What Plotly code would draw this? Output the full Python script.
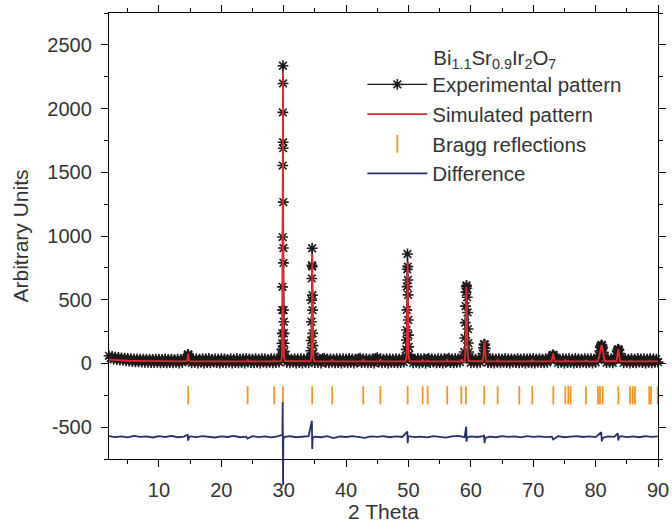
import plotly.graph_objects as go

# ---------------- Experimental pattern (2θ in degrees, counts) ----------------
exp_two_theta = [
    # background 2-14
    2.0, 2.25, 2.5, 2.75, 3.0, 3.25, 3.5, 3.75, 4.0, 4.25, 4.5, 4.75, 5.0, 5.25, 5.5, 5.75,
    6.0, 6.25, 6.5, 6.75, 7.0, 7.25, 7.5, 7.75, 8.0, 8.25, 8.5, 8.75, 9.0, 9.25, 9.5, 9.75,
    10.0, 10.25, 10.5, 10.75, 11.0, 11.25, 11.5, 11.75, 12.0, 12.25, 12.5, 12.75, 13.0,
    13.25, 13.5, 13.75, 14.0,
    # (111)
    14.30, 14.45, 14.55, 14.62, 14.68, 14.74, 14.80, 14.90, 15.05,
    # background 15.25-29.5
    15.25, 15.5, 15.75, 16.0, 16.25, 16.5, 16.75, 17.0, 17.25, 17.5, 17.75, 18.0, 18.25,
    18.5, 18.75, 19.0, 19.25, 19.5, 19.75, 20.0, 20.25, 20.5, 20.75, 21.0, 21.25, 21.5,
    21.75, 22.0, 22.25, 22.5, 22.75, 23.0, 23.25, 23.5, 23.75, 24.0, 24.25, 24.5, 24.75,
    25.0, 25.25, 25.5, 25.75, 26.0, 26.25, 26.5, 26.75, 27.0, 27.25, 27.5, 27.75, 28.0,
    28.25, 28.5, 28.75, 29.0, 29.25, 29.5,
    # (222)
    29.56, 29.62, 29.67, 29.71, 29.74, 29.77, 29.79, 29.81, 29.83, 29.85, 29.87, 29.88,
    29.90, 29.91, 29.92, 29.94, 29.96, 29.97, 29.99, 30.01, 30.04, 30.07, 30.11, 30.16, 30.24,
    # background 30.5-34
    30.5, 30.75, 31.0, 31.25, 31.5, 31.75, 32.0, 32.25, 32.5, 32.75, 33.0, 33.25, 33.5,
    33.75, 34.0,
    # (400)
    34.22, 34.30, 34.36, 34.41, 34.45, 34.48, 34.51, 34.53, 34.56, 34.59, 34.61, 34.63,
    34.66, 34.70, 34.75, 34.82, 34.92,
    # background 35-49.25
    35.0, 35.25, 35.5, 35.75, 36.0, 36.25, 36.5, 36.75, 37.0, 37.25, 37.5, 37.75, 38.0,
    38.25, 38.5, 38.75, 39.0, 39.25, 39.5, 39.75, 40.0, 40.25, 40.5, 40.75, 41.0, 41.25,
    41.5, 41.75, 42.0, 42.25, 42.5, 42.75, 43.0, 43.25, 43.5, 43.75, 44.0, 44.25, 44.5,
    44.75, 45.0, 45.25, 45.5, 45.75, 46.0, 46.25, 46.5, 46.75, 47.0, 47.25, 47.5, 47.75,
    48.0, 48.25, 48.5, 48.75, 49.0, 49.25,
    # (440)
    49.50, 49.58, 49.64, 49.68, 49.71, 49.74, 49.77, 49.80, 49.84, 49.88, 49.91, 49.94,
    49.97, 50.00, 50.05, 50.12, 50.22,
    # background 50.5-58.5
    50.5, 50.75, 51.0, 51.25, 51.5, 51.75, 52.0, 52.25, 52.5, 52.75, 53.0, 53.25, 53.5,
    53.75, 54.0, 54.25, 54.5, 54.75, 55.0, 55.25, 55.5, 55.75, 56.0, 56.25, 56.5, 56.75,
    57.0, 57.25, 57.5, 57.75, 58.0, 58.25, 58.5,
    # (622)
    58.85, 58.95, 59.03, 59.10, 59.16, 59.22, 59.27, 59.32, 59.37, 59.42, 59.48, 59.54,
    59.60, 59.67, 59.75, 59.86,
    # background 60-61.5
    60.0, 60.25, 60.5, 60.75, 61.0, 61.25, 61.5,
    # (444)
    61.85, 61.95, 62.03, 62.10, 62.17, 62.24, 62.31, 62.40, 62.52,
    # background 62.75-72.5
    62.75, 63.0, 63.25, 63.5, 63.75, 64.0, 64.25, 64.5, 64.75, 65.0, 65.25, 65.5, 65.75,
    66.0, 66.25, 66.5, 66.75, 67.0, 67.25, 67.5, 67.75, 68.0, 68.25, 68.5, 68.75, 69.0,
    69.25, 69.5, 69.75, 70.0, 70.25, 70.5, 70.75, 71.0, 71.25, 71.5, 71.75, 72.0, 72.25, 72.5,
    # (800)
    72.85, 72.95, 73.05, 73.15, 73.25, 73.35, 73.47,
    # background 73.75-80.25
    73.75, 74.0, 74.25, 74.5, 74.75, 75.0, 75.25, 75.5, 75.75, 76.0, 76.25, 76.5, 76.75,
    77.0, 77.25, 77.5, 77.75, 78.0, 78.25, 78.5, 78.75, 79.0, 79.25, 79.5, 79.75, 80.0, 80.25,
    # (662)/(840)
    80.45, 80.55, 80.65, 80.75, 80.85, 80.95, 81.05, 81.15, 81.25, 81.35, 81.50,
    # background 81.75-83
    81.75, 82.0, 82.25, 82.5, 82.75, 83.0,
    # (844)
    83.25, 83.35, 83.45, 83.55, 83.65, 83.75, 83.85, 83.97,
    # background 84.25-90
    84.25, 84.5, 84.75, 85.0, 85.25, 85.5, 85.75, 86.0, 86.25, 86.5, 86.75, 87.0, 87.25,
    87.5, 87.75, 88.0, 88.25, 88.5, 88.75, 89.0, 89.25, 89.5, 89.75, 90.0,
]
exp_counts = [
    60, 41, 55, 34, 50, 30, 47, 27, 44, 24, 41, 21, 39, 18, 37, 15,
    36, 13, 35, 12, 34, 10, 33, 9, 34, 8, 33, 7, 32, 6, 34, 8,
    33, 5, 31, 7, 35, 4, 32, 6, 33, 5, 30, 8, 34,
    3, 31, 9, 33,
    26, 34, 52, 66, 70, 67, 52, 32, 22,
    5, 36, 9, 38, 3, 33, 11, 37, 2, 35, 7, 39, 4,
    32, 10, 36, 6, 34, 2, 38, 8, 35, 4, 31, 11, 37,
    3, 34, 7, 39, 5, 33, 9, 36, 2, 40, 12, 35, 6,
    33, 4, 37, 8, 34, 3, 38, 10, 35, 5, 32, 9, 37,
    4, 36, 7, 33, 11, 35,
    34, 48, 72, 110, 158, 236, 419, 601, 992, 1553, 1970, 2336,
    2197, 1736, 1689, 1266, 906, 789, 419, 327, 236, 158, 95, 58, 36,
    8, 36, 4, 33, 10, 38, 3, 35, 7, 37, 2, 34, 9,
    36, 5,
    30, 55, 100, 180, 327, 497, 667, 771, 904, 760, 536, 418,
    236, 140, 80, 45, 27,
    6, 37, 9, 34, 3, 38, 41, 8, 35, 5, 36, 10, 33,
    4, 38, 7, 35, 2, 37, 9, 34, 5, 39, 8, 36, 3,
    33, 11, 37, 42, 6, 35, 9, 38, 4, 34, 7, 36, 2,
    39, 45, 10, 35, 5, 33, 8, 37, 3, 36, 9, 34, 6,
    38, 4, 35, 7, 33, 10,
    30, 60, 110, 184, 262, 420, 603, 739, 859, 760, 655, 538,
    341, 222, 130, 70, 36,
    36, 4, 34, 8, 39, 3, 35, 9, 37, 2, 33, 40, 6,
    36, 10, 34, 5, 38, 7, 35, 3, 37, 9, 33, 41, 6,
    36, 4, 38, 8, 35, 11, 42,
    42, 90, 200, 320, 450, 560, 605, 612, 590, 520, 400, 270,
    160, 90, 50, 30,
    5, 36, 8, 33, 4, 38, 9,
    38, 78, 122, 148, 152, 147, 118, 72, 36,
    7, 35, 4, 38, 3, 34, 9, 37, 5, 33, 8, 39, 6,
    35, 2, 36, 10, 34, 7, 38, 4, 33, 9, 37, 3, 35,
    8, 36, 5, 39, 2, 34, 10, 37, 6, 33, 4, 38, 8, 35,
    30, 48, 62, 68, 66, 54, 33,
    36, 4, 33, 8, 38, 3, 35, 6, 37, 9, 34, 2, 39,
    7, 36, 5, 33, 10, 38, 4, 35, 8, 37, 3, 34, 9, 36,
    36, 62, 98, 128, 138, 146, 140, 124, 88, 52, 28,
    6, 35, 9, 37, 4, 34,
    32, 62, 96, 108, 112, 104, 78, 40,
    36, 5, 38, 8, 33, 3, 37, 7, 34, 4, 39, 10, 35,
    6, 37, 3, 33, 9, 38, 5, 36, 8, 34, 10,
]

# ---------------- Simulated (refined) pattern ----------------
sim_two_theta = [
    2.0, 3.0, 4.0, 5.0, 6.0, 8.0, 10.0, 12.0, 14.3,
    14.55, 14.63, 14.70, 14.77, 14.85, 15.1,
    24.05, 24.22, 24.40,
    28.35, 28.49, 28.65,
    29.60, 29.72, 29.80, 29.84, 29.88, 29.92, 29.96, 30.04, 30.20,
    34.30, 34.45, 34.52, 34.56, 34.60, 34.64, 34.68, 34.75, 34.90,
    37.65, 37.78, 37.92,
    42.60, 42.75, 42.90,
    45.35, 45.50, 45.65,
    49.55, 49.70, 49.78, 49.83, 49.87, 49.91, 49.96, 50.04, 50.20,
    52.12, 52.27, 52.42,
    52.95, 53.07, 53.20,
    56.07, 56.22, 56.37,
    58.32, 58.47, 58.62,
    58.95, 59.10, 59.20, 59.26, 59.30, 59.34, 59.40, 59.50, 59.65,
    61.90, 62.03, 62.10, 62.17, 62.24, 62.31, 62.45,
    64.15, 64.30, 64.45,
    67.62, 67.77, 67.92,
    69.70, 69.85, 70.00,
    72.95, 73.08, 73.20, 73.32, 73.45,
    74.99, 75.14, 75.30,
    75.50, 75.63, 75.78,
    78.31, 78.46, 78.61,
    80.35, 80.50, 80.70, 80.85, 80.97, 81.10, 81.25, 81.45,
    83.35, 83.50, 83.64, 83.78, 83.95,
    85.35, 85.50, 85.65,
    86.15, 86.30, 86.45,
    88.45, 88.60, 88.75,
    90.0,
]
sim_counts = [
    30, 26, 23, 21, 20, 18, 17, 16.5, 16,
    25, 50, 80, 50, 25, 16,
    16, 28, 16,
    16, 24, 16,
    18, 60, 400, 1200, 2280, 1200, 400, 60, 18,
    17, 60, 300, 600, 860, 600, 300, 60, 17,
    16, 31, 16,
    16, 31, 16,
    16, 34, 16,
    17, 60, 280, 560, 800, 560, 280, 60, 17,
    16, 26, 16,
    16, 22, 16,
    16, 28, 16,
    16, 31, 16,
    18, 70, 300, 480, 600, 480, 300, 70, 18,
    17, 60, 130, 176, 130, 60, 17,
    16, 26, 16,
    16, 21, 16,
    16, 28, 16,
    16, 45, 78, 45, 16,
    16, 26, 16,
    16, 22, 16,
    16, 24, 16,
    17, 40, 90, 120, 146, 115, 55, 17,
    17, 60, 114, 60, 17,
    16, 22, 16,
    16, 21, 16,
    16, 22, 16,
    16,
]

# ---------------- Difference curve (shifted below the pattern) ----------------
diff_two_theta = [
    2, 3, 4, 5, 6, 7, 8, 9, 10, 11, 12, 13, 14,
    14.6, 14.7, 14.8,
    15, 16, 17, 18, 19, 20, 21, 22, 23, 24,
    24.2,
    25, 26, 27, 28, 29,
    29.8, 29.84, 29.87, 29.9, 29.94,
    30, 31, 32, 33, 34,
    34.52, 34.58, 34.64,
    35, 36, 37, 38, 39, 40, 41, 42, 43, 44, 45, 46, 47, 48, 49,
    49.82, 49.88, 49.94,
    50, 51, 52, 53, 54, 55, 56, 57, 58, 59,
    59.26, 59.32, 59.4,
    60, 61, 62,
    62.1, 62.2, 62.3,
    63, 64, 65, 66, 67, 68, 69, 70, 71, 72, 73,
    73.2,
    74, 75, 76, 77, 78, 79, 80,
    80.9, 81.0, 81.1,
    82, 83,
    83.55, 83.65, 83.75,
    84, 85, 86, 87, 88, 89, 90,
]
diff_counts = [
    -570, -578, -572, -580, -569, -576, -573, -581, -571, -577, -568, -579, -574,
    -560, -605, -582,
    -573, -578, -570, -576, -581, -572, -577, -569, -579, -574,
    -590,
    -571, -578, -573, -580, -572,
    -560, -305, -620, -955, -610,
    -578, -571, -579, -574, -570,
    -450, -672, -585,
    -574, -579, -571, -586, -573, -577, -570, -580, -584, -572, -576, -570, -579, -573, -577,
    -535, -626, -580,
    -571, -578, -574, -580, -570, -577, -582, -573, -569, -578,
    -496, -614, -580,
    -572, -577, -570,
    -560, -626, -585,
    -574, -579, -571, -577, -573, -580, -570, -576, -572, -578, -574,
    -596,
    -571, -579, -574, -570, -577, -573, -578,
    -540, -612, -585,
    -572, -576,
    -549, -605, -578,
    -571, -578, -573, -579, -570, -576, -573,
]

# ---------------- Bragg reflection positions ----------------
bragg_two_theta = [
    14.70, 24.22, 28.49, 29.88, 34.57, 37.78, 42.75, 45.50, 49.87, 52.27, 53.07,
    56.22, 58.47, 59.22, 62.15, 64.30, 67.77, 69.85, 73.22, 75.14, 75.63, 76.00,
    78.46, 80.38, 80.70, 81.13, 83.64, 85.51, 85.94, 86.31, 88.60, 88.88, 89.95,
]
BRAGG_ROW = -250

# axis tick labels
y_tick_values = [-500, 0, 500, 1000, 1500, 2000, 2500]
y_tick_labels = ["-500", "0", "500", "1000", "1500", "2000", "2500"]
x_tick_values = [10, 20, 30, 40, 50, 60, 70, 80, 90]
x_tick_labels = ["10", "20", "30", "40", "50", "60", "70", "80", "90"]

assert len(exp_two_theta) == len(exp_counts), (len(exp_two_theta), len(exp_counts))
assert len(sim_two_theta) == len(sim_counts)
assert len(diff_two_theta) == len(diff_counts)

FONT = "Liberation Sans, Arial, sans-serif"
TEXT = "#333333"

# Frame geometry: the framed axes sit a little above the bottom of the
# drawing region so that the difference curve (on its own hidden axes with
# identical units/pixel) can run past the bottom axis line.
X_MIN, X_MAX = 2, 90
Y_MIN, Y_MAX = -750, 2750
FRAME_BOTTOM = 0.0708          # fraction of the drawing region below the frame
DIFF_Y_MIN = Y_MAX - (Y_MAX - Y_MIN) / (1 - FRAME_BOTTOM)

fig = go.Figure()

fig.add_trace(go.Scatter(
    x=exp_two_theta, y=exp_counts, mode="lines+markers",
    name="Experimental pattern",
    line=dict(color="#1a1a1a", width=1.3),
    marker=dict(symbol="asterisk-open", size=9, color="#1a1a1a",
                line=dict(color="#1a1a1a", width=1.6)),
    cliponaxis=False,
))
fig.add_trace(go.Scatter(
    x=sim_two_theta, y=sim_counts, mode="lines",
    name="Simulated pattern",
    line=dict(color="#e8262b", width=1.8),
))
fig.add_trace(go.Scatter(
    x=bragg_two_theta, y=[BRAGG_ROW] * len(bragg_two_theta), mode="markers",
    name="Bragg reflections",
    marker=dict(symbol="line-ns-open", size=13, color="#f7941d",
                line=dict(color="#f7941d", width=1.8)),
    cliponaxis=False,
))
fig.add_trace(go.Scatter(
    x=diff_two_theta, y=diff_counts, mode="lines",
    name="Difference",
    line=dict(color="#262f6b", width=1.8),
    xaxis="x2", yaxis="y2",
))

axis_style = dict(
    showline=True, linecolor="black", linewidth=1.3, mirror="allticks",
    ticks="outside", ticklen=7, tickwidth=1.3, tickcolor="black",
    showgrid=False, zeroline=False, automargin=False,
    tickfont=dict(family=FONT, size=20, color=TEXT),
)

fig.update_layout(
    xaxis=dict(
        range=[X_MIN, X_MAX], tickmode="array", tickvals=x_tick_values, ticktext=x_tick_labels,
        anchor="y", ticklabelstandoff=6,
        minor=dict(ticks="outside", ticklen=4, tickwidth=1.3, tickcolor="black",
                   dtick=5, tick0=0, showgrid=False),
        title=dict(text="2 Theta", font=dict(family=FONT, size=21, color=TEXT), standoff=15),
        **axis_style,
    ),
    yaxis=dict(
        range=[Y_MIN, Y_MAX], domain=[FRAME_BOTTOM, 1], anchor="x",
        tickmode="array", tickvals=y_tick_values, ticktext=y_tick_labels,
        ticklabelstandoff=5,
        minor=dict(ticks="outside", ticklen=4, tickwidth=1.3, tickcolor="black",
                   dtick=250, tick0=0, showgrid=False),
        title=dict(text="Arbitrary Units", font=dict(family=FONT, size=21, color=TEXT), standoff=12),
        **axis_style,
    ),
    xaxis2=dict(
        range=[X_MIN, X_MAX], domain=[0, 1], anchor="y2",
        visible=False, showgrid=False, zeroline=False, automargin=False,
    ),
    yaxis2=dict(
        range=[DIFF_Y_MIN, Y_MAX], domain=[0, 1], anchor="x2",
        visible=False, showgrid=False, zeroline=False, automargin=False,
    ),
    width=672, height=523,
    margin=dict(l=109, r=14, t=13, b=30, autoexpand=False),
    paper_bgcolor="white", plot_bgcolor="rgba(0,0,0,0)",
    font=dict(family=FONT, size=20, color=TEXT),
    showlegend=True,
    legend=dict(
        x=0.4614, y=0.948, xanchor="left", yanchor="top",
        bgcolor="rgba(0,0,0,0)", itemwidth=60,
        font=dict(family=FONT, size=20.5, color=TEXT),
        title=dict(text="Bi<sub>1.1</sub>Sr<sub>0.9</sub>Ir<sub>2</sub>O<sub>7</sub>",
                   side="top center", font=dict(family=FONT, size=20.5, color=TEXT)),
    ),
)

fig.write_html("out.html")
